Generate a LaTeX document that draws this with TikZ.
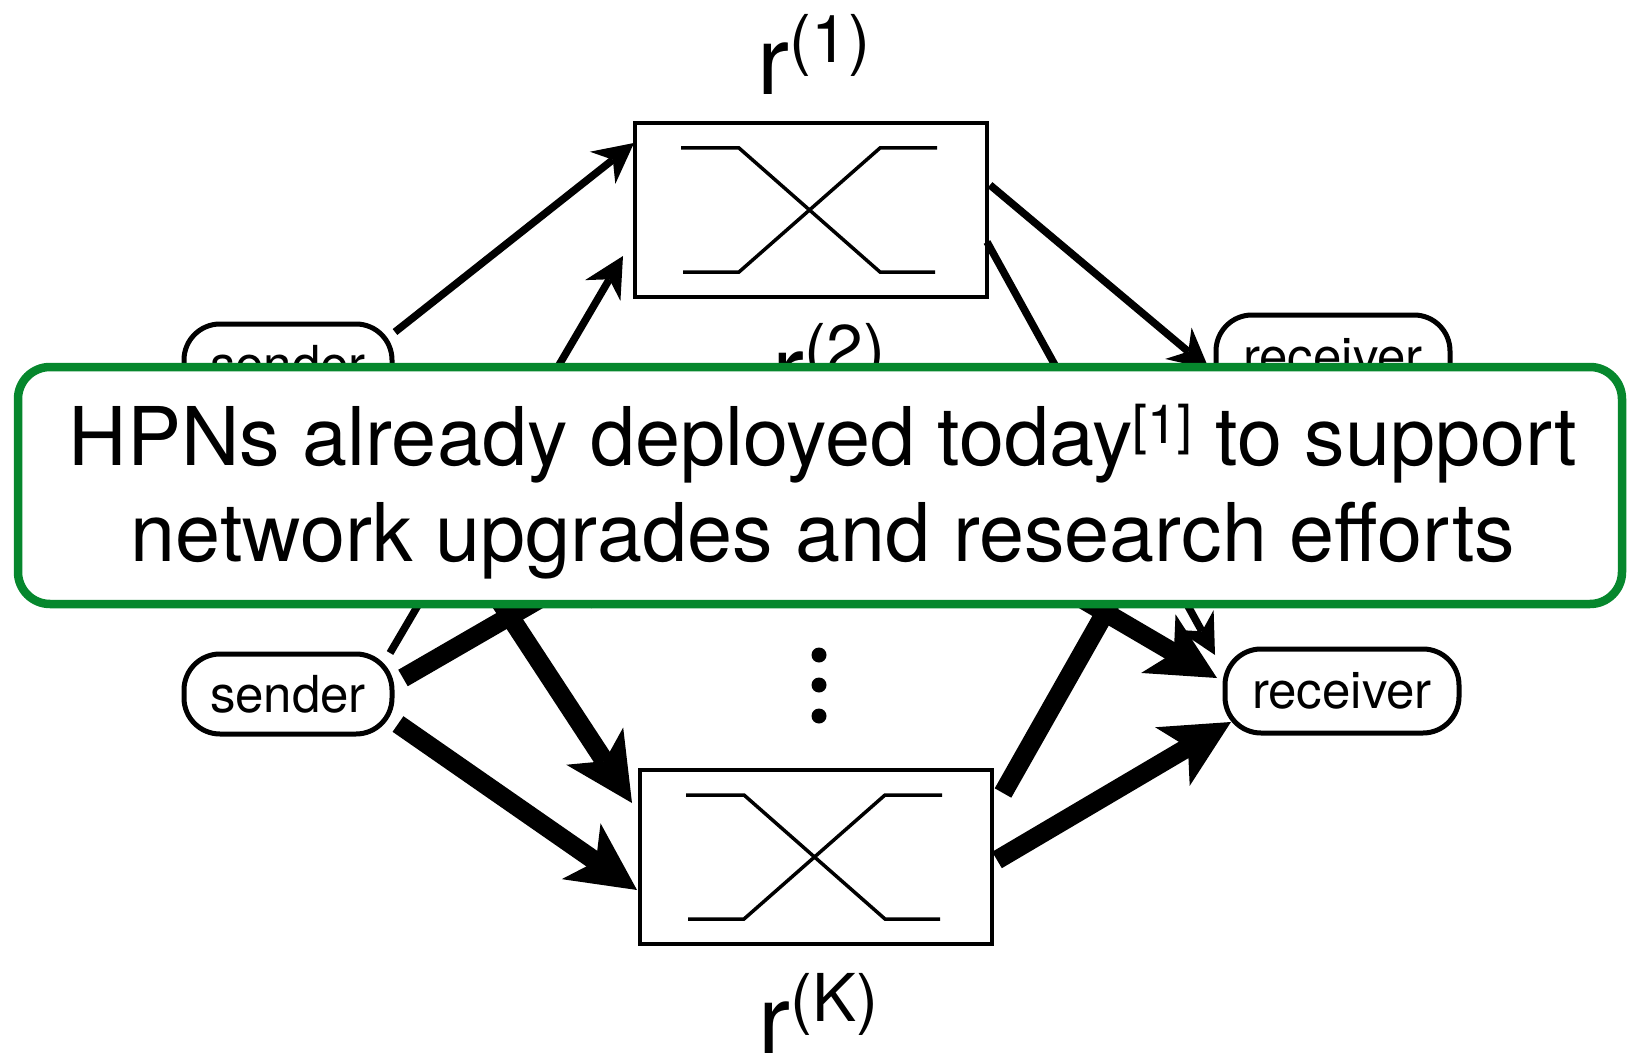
\documentclass[tikz,border=0pt]{standalone}
\usepackage{fontspec}
\setmainfont{TeX Gyre Heros}
\usetikzlibrary{arrows.meta,calc}
\definecolor{hpngreen}{RGB}{6,135,45}
\newcommand\rlab[1]{r\raisebox{16pt}{\fontsize{33pt}{33pt}\selectfont(#1)}}
\begin{document}
\begin{tikzpicture}[x=0.5pt,y=-0.5pt,
  endpt/.style={draw, line width=2.5pt, rounded corners=18pt, fill=white, inner sep=0pt,
    font=\fontsize{25.5pt}{30pt}\selectfont},
  sendernode/.style={endpt, minimum width=104pt, minimum height=40pt},
  recvnode/.style={endpt, minimum width=117pt, minimum height=42pt},
  relay/.style={draw, line width=2pt, minimum width=176pt, minimum height=87pt, inner sep=0pt},
  xline/.style={line width=1.75pt},
  thinarrow/.style={line width=3.75pt, -{Stealth[length=20pt,width=20.5pt,inset=6.5pt,line width=0pt]}},
  thickarrow/.style={line width=9.5pt, -{Stealth[length=34pt,width=34pt,inset=9pt,line width=0pt]}},
  rlabel/.style={anchor=base west, inner sep=0pt, font=\fontsize{48pt}{48pt}\selectfont},
  dotn/.style={circle, fill=black, inner sep=0pt, minimum size=7.5pt},
  greenbox/.style={draw=hpngreen, line width=4.25pt, rounded corners=16pt, fill=white, inner sep=0pt},
  hpntext/.style={anchor=base, inner sep=0pt, font=\fontsize{40.5pt}{48pt}\selectfont}
]
\useasboundingbox (0,0) rectangle (1629,1054);

% relays
\node[relay] (r1) at (811,210) {};
\node[relay] (r2) at (813,512) {};
\node[relay] (rK) at (816,857) {};
\foreach \b in {r1,r2,rK} {
  \draw[xline] ([shift={(-130,-62)}]\b.center) -- ([shift={(-72,-62)}]\b.center)
     -- ([shift={(69,62)}]\b.center) -- ([shift={(124,62)}]\b.center);
  \draw[xline] ([shift={(-128,62)}]\b.center) -- ([shift={(-72,62)}]\b.center)
     -- ([shift={(69,-62)}]\b.center) -- ([shift={(126,-62)}]\b.center);
}
\node[rlabel] (l1) at (757,95) {\rlab{1}};
\node[rlabel] (l2) at (772,403) {\rlab{2}};
\node[rlabel] (lK) at (758,1053) {\rlab{K}};

% senders / receivers
\node[sendernode] (s1) at (288,364) {sender};
\node[sendernode] (s2) at (288,694) {sender};
\node[recvnode] (v1) at (1333,357) {receiver};
\node[recvnode] (v2) at (1342,691) {receiver};

% dots
\node[dotn] (d1) at (819,655) {};
\node[dotn] (d2) at (819,685) {};
\node[dotn] (d3) at (819,716) {};

% connectors
\draw[thinarrow] ([shift={(107,-32)}]s1.center) -- ([shift={(-177,-67)}]r1.center);
\draw[thinarrow] ([shift={(102,-41)}]s2.center) -- ([shift={(-188,46)}]r1.center);
\draw[thinarrow] ([shift={(108,20)}]s1.center) -- ([shift={(-180,-40)}]r2.center);
\draw[thickarrow] ([shift={(80,36)}]s1.center) -- ([shift={(-184,-54)}]rK.center);
\draw[thickarrow] ([shift={(115,-16)}]s2.center) -- ([shift={(-180,33)}]r2.center);
\draw[thickarrow] ([shift={(110,30)}]s2.center) -- ([shift={(-179,33)}]rK.center);
\draw[thinarrow] ([shift={(179,-25)}]r1.center) -- ([shift={(-124,12)}]v1.center);
\draw[thinarrow] ([shift={(176,32)}]r1.center) -- ([shift={(-127,-36)}]v2.center);
\draw[thinarrow] ([shift={(180,-40)}]r2.center) -- ([shift={(-110,40)}]v1.center);
\draw[thickarrow] ([shift={(177,33)}]r2.center) -- ([shift={(-125,-13)}]v2.center);
\draw[thickarrow] ([shift={(187,-64)}]rK.center) -- ([shift={(-108,44)}]v1.center);
\draw[thickarrow] ([shift={(181,3)}]rK.center) -- ([shift={(-111,31)}]v2.center);

% overlay box
\node[greenbox, minimum width=802pt, minimum height=118.5pt] (hpn) at (820,485.5) {};
\node[hpntext] (t1) at (823,465) {HPNs already deployed today\raisebox{11pt}{\fontsize{27pt}{27pt}\selectfont[1]} to support};
\node[hpntext] (t2) at (823,561) {network upgrades and research efforts};
\end{tikzpicture}
\end{document}
